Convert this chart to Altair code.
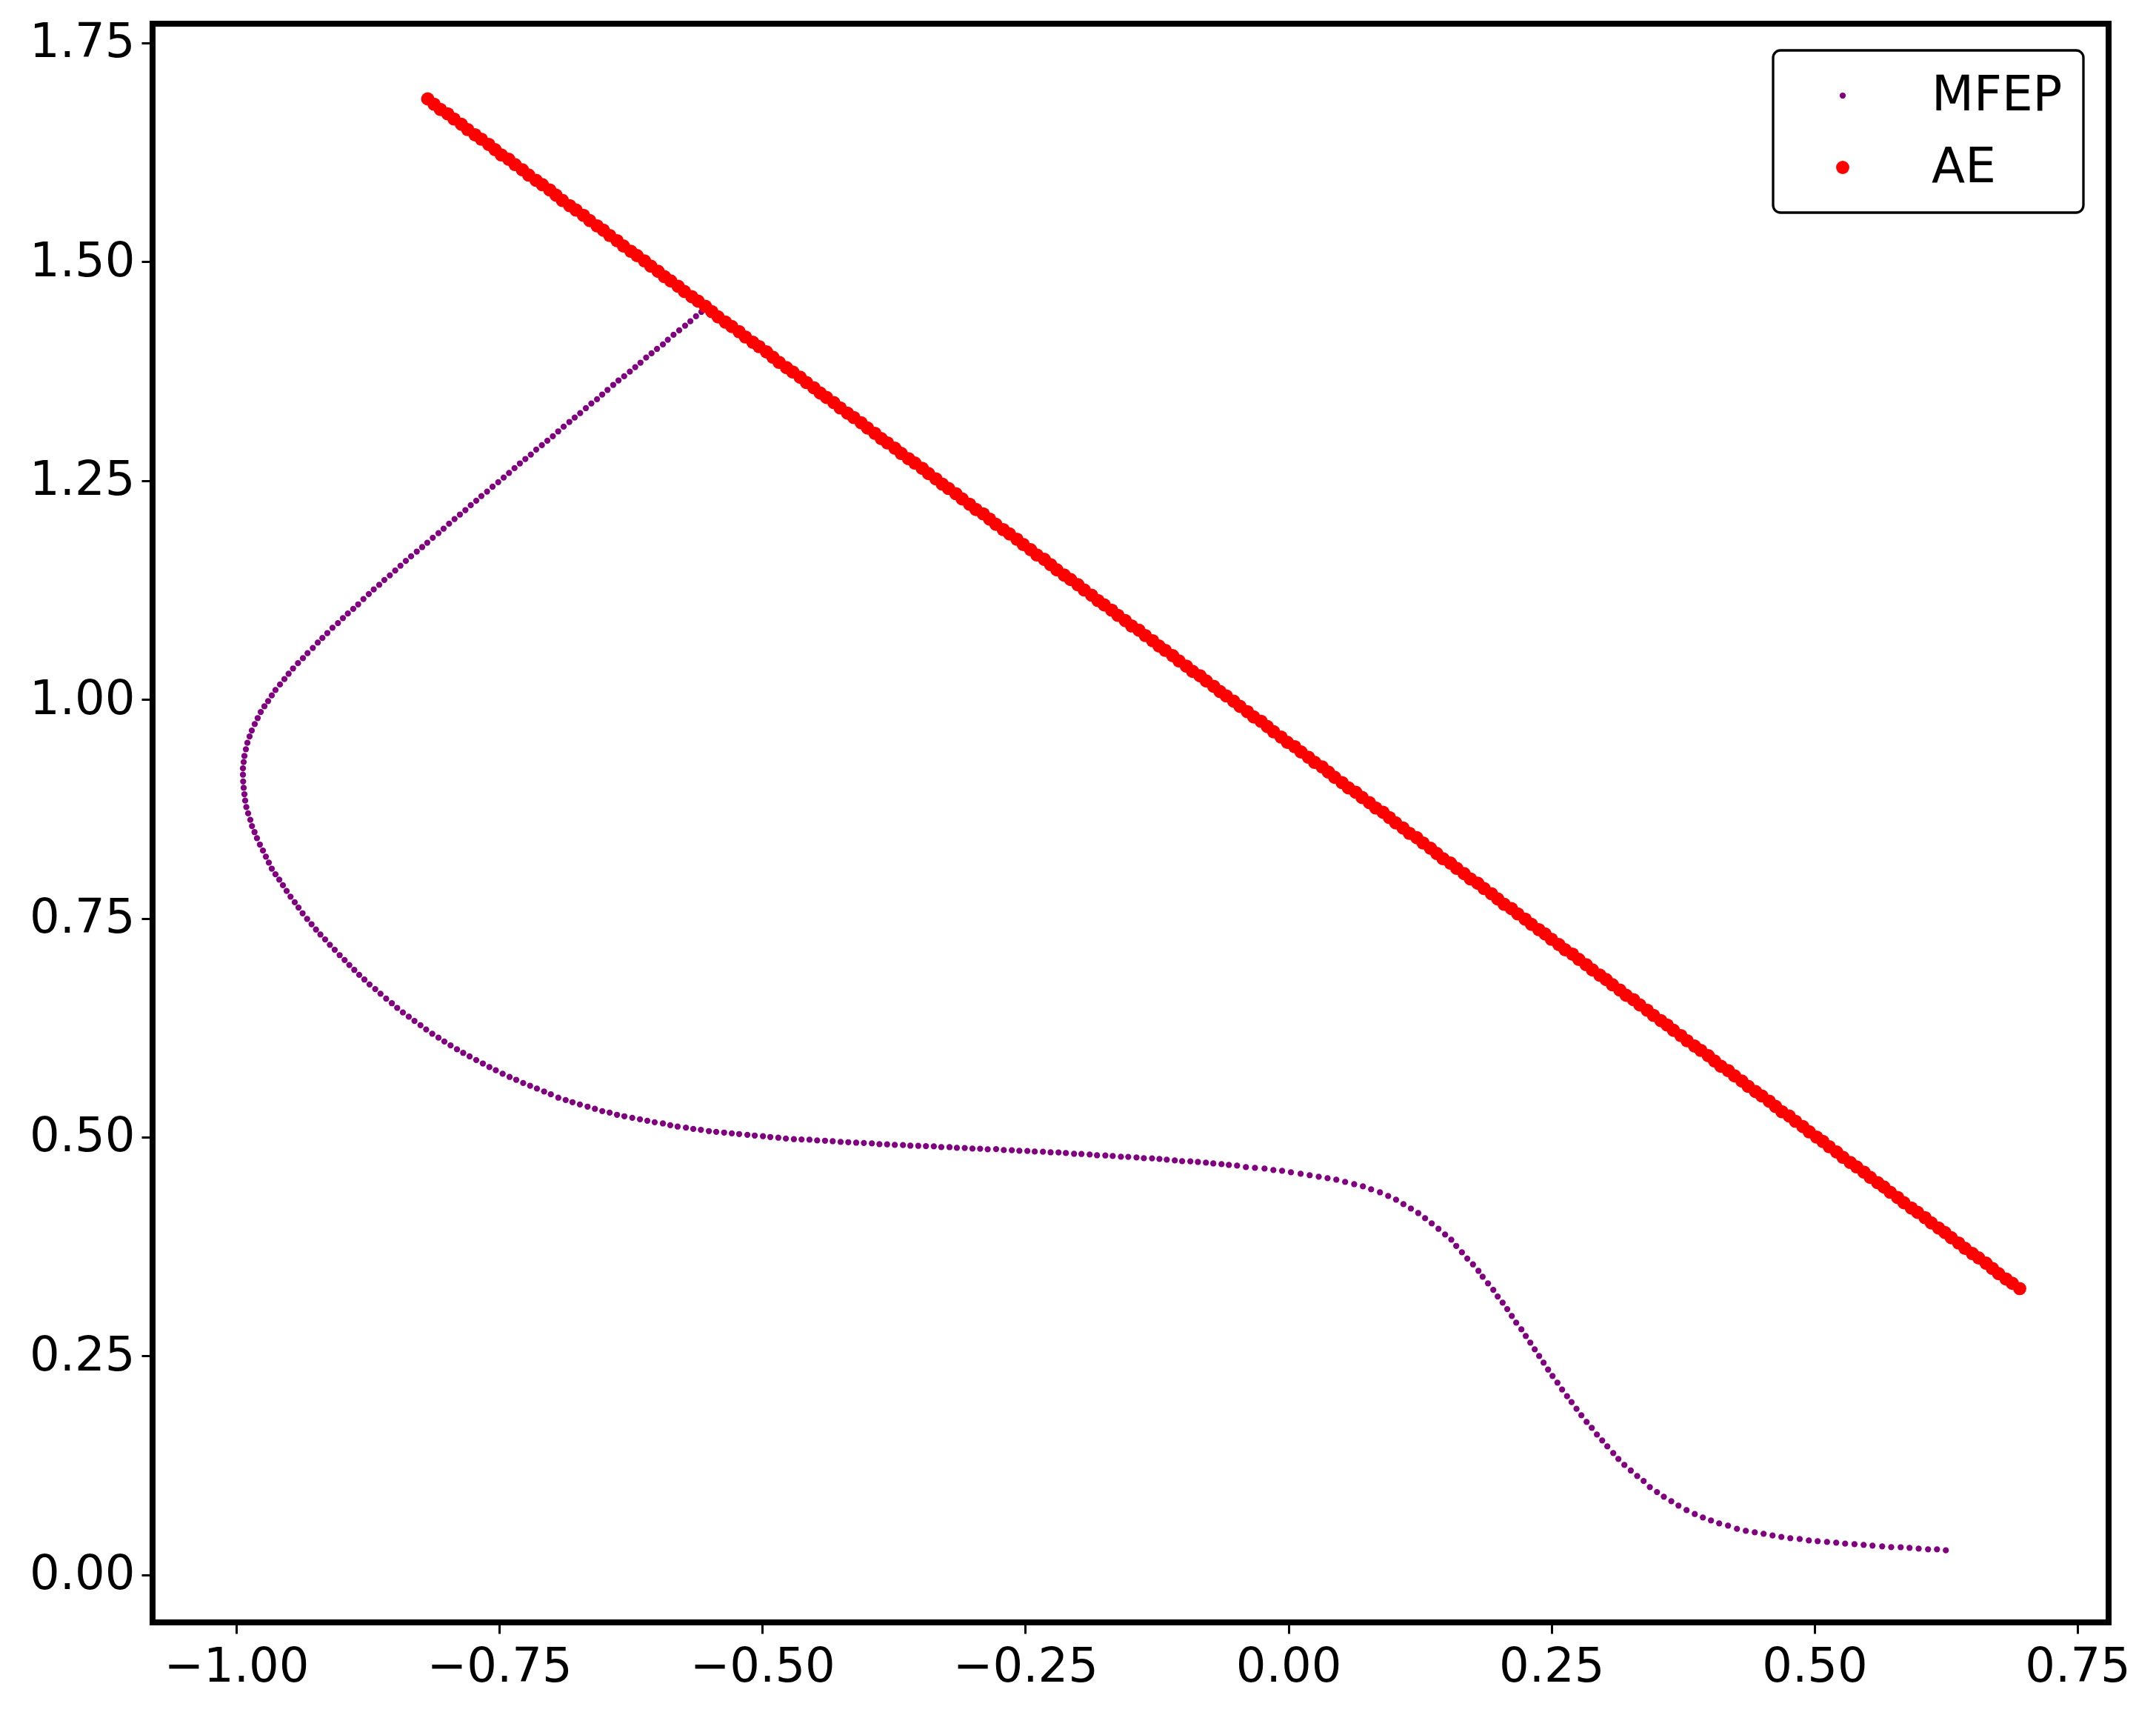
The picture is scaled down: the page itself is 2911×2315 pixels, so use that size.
import altair as alt
import pandas as pd

# ---------------- data ----------------
series_names = ["MFEP", "AE"]
series_colors = ["#800080", "#ff0000"]
series_sizes = [68, 320]

x_ticks = [-1.0, -0.75, -0.5, -0.25, 0.0, 0.25, 0.5, 0.75]
y_ticks = [0.0, 0.25, 0.5, 0.75, 1.0, 1.25, 1.5, 1.75]

# MFEP path, upper straight part
mfep_x_upper = [
    -0.5579, -0.5630, -0.5684, -0.5734, -0.5790, -0.5844, -0.5898, -0.5945, -0.6001, -0.6053,
    -0.6104, -0.6158, -0.6208, -0.6259, -0.6313, -0.6367, -0.6417, -0.6471, -0.6522, -0.6571,
    -0.6625, -0.6677, -0.6731, -0.6783, -0.6834, -0.6888, -0.6940, -0.6991, -0.7043, -0.7095,
    -0.7149, -0.7200, -0.7252, -0.7304, -0.7355, -0.7407, -0.7458, -0.7510, -0.7564, -0.7616,
    -0.7670, -0.7719, -0.7771, -0.7822, -0.7874, -0.7925, -0.7977, -0.8029, -0.8078, -0.8132,
    -0.8184, -0.8233, -0.8284, -0.8338, -0.8388, -0.8439, -0.8489]
mfep_y_upper = [
    1.4427, 1.4377, 1.4320, 1.4270, 1.4216, 1.4165, 1.4109, 1.4055, 1.4004, 1.3954,
    1.3906, 1.3847, 1.3796, 1.3745, 1.3691, 1.3644, 1.3593, 1.3536, 1.3483, 1.3429,
    1.3381, 1.3327, 1.3271, 1.3220, 1.3170, 1.3116, 1.3062, 1.3006, 1.2955, 1.2904,
    1.2854, 1.2797, 1.2747, 1.2696, 1.2642, 1.2588, 1.2535, 1.2481, 1.2430, 1.2374,
    1.2323, 1.2270, 1.2219, 1.2163, 1.2112, 1.2061, 1.2008, 1.1951, 1.1900, 1.1847,
    1.1790, 1.1740, 1.1689, 1.1635, 1.1582, 1.1528, 1.1472]

# MFEP path, left bend
mfep_x_bend = [
    -0.8540, -0.8592, -0.8641, -0.8693, -0.8740, -0.8791, -0.8841, -0.8888, -0.8939, -0.8986,
    -0.9033, -0.9085, -0.9134, -0.9181, -0.9225, -0.9272, -0.9322, -0.9366, -0.9413, -0.9460,
    -0.9502, -0.9542, -0.9584, -0.9627, -0.9662, -0.9697, -0.9732, -0.9767, -0.9796, -0.9824,
    -0.9852, -0.9873, -0.9894, -0.9908, -0.9922, -0.9929, -0.9936, -0.9936, -0.9934, -0.9929,
    -0.9922, -0.9915, -0.9904, -0.9887, -0.9866, -0.9850, -0.9826, -0.9803, -0.9775, -0.9746,
    -0.9718, -0.9690, -0.9662, -0.9627, -0.9591, -0.9556, -0.9521, -0.9484, -0.9444, -0.9408,
    -0.9369, -0.9326, -0.9284, -0.9242, -0.9200, -0.9155, -0.9110, -0.9064, -0.9017, -0.8970,
    -0.8925, -0.8878, -0.8831, -0.8782, -0.8733, -0.8679, -0.8629, -0.8575, -0.8521, -0.8470,
    -0.8416, -0.8360, -0.8306, -0.8249, -0.8195, -0.8137, -0.8078, -0.8022, -0.7963, -0.7902,
    -0.7843, -0.7782, -0.7719, -0.7656, -0.7594, -0.7533, -0.7468, -0.7402, -0.7339, -0.7273,
    -0.7207, -0.7142, -0.7074, -0.7010]
mfep_y_bend = [
    1.1418, 1.1365, 1.1309, 1.1256, 1.1204, 1.1147, 1.1086, 1.1034, 1.0981, 1.0929,
    1.0872, 1.0819, 1.0758, 1.0702, 1.0649, 1.0588, 1.0528, 1.0471, 1.0414, 1.0354,
    1.0293, 1.0232, 1.0171, 1.0107, 1.0046, 0.9981, 0.9921, 0.9856, 0.9787, 0.9718,
    0.9645, 0.9577, 0.9504, 0.9431, 0.9354, 0.9285, 0.9212, 0.9140, 0.9063, 0.8990,
    0.8917, 0.8844, 0.8771, 0.8698, 0.8625, 0.8553, 0.8484, 0.8415, 0.8342, 0.8273,
    0.8204, 0.8136, 0.8067, 0.8002, 0.7941, 0.7877, 0.7812, 0.7747, 0.7683, 0.7622,
    0.7557, 0.7492, 0.7432, 0.7371, 0.7314, 0.7258, 0.7197, 0.7140, 0.7079, 0.7023,
    0.6966, 0.6910, 0.6853, 0.6800, 0.6744, 0.6691, 0.6638, 0.6582, 0.6529, 0.6476,
    0.6424, 0.6375, 0.6327, 0.6278, 0.6230, 0.6181, 0.6136, 0.6092, 0.6047, 0.6003,
    0.5962, 0.5922, 0.5881, 0.5841, 0.5800, 0.5764, 0.5724, 0.5687, 0.5655, 0.5618,
    0.5586, 0.5554, 0.5521, 0.5489]

# MFEP path, flat middle
mfep_x_flat = [
    -0.6939, -0.6869, -0.6804, -0.6734, -0.6661, -0.6591, -0.6521, -0.6451, -0.6381, -0.6311,
    -0.6236, -0.6163, -0.6093, -0.6023, -0.5945, -0.5875, -0.5805, -0.5726, -0.5656, -0.5584,
    -0.5508, -0.5438, -0.5363, -0.5290, -0.5220, -0.5142, -0.5072, -0.4994, -0.4924, -0.4848,
    -0.4776, -0.4700, -0.4627, -0.4552, -0.4479, -0.4404, -0.4331, -0.4256, -0.4183, -0.4108,
    -0.4035, -0.3959, -0.3887, -0.3814, -0.3741, -0.3663, -0.3593, -0.3518, -0.3445, -0.3370,
    -0.3299, -0.3221, -0.3151, -0.3076, -0.3003, -0.2930, -0.2858,
    -0.2778, -0.2705, -0.2629, -0.2557, -0.2481, -0.2411, -0.2333, -0.2260, -0.2185, -0.2115,
    -0.2037, -0.1967, -0.1889, -0.1819, -0.1740, -0.1670, -0.1592, -0.1522, -0.1444, -0.1374,
    -0.1296, -0.1226, -0.1156, -0.1080, -0.1010, -0.0932, -0.0860, -0.0784, -0.0714, -0.0636,
    -0.0566, -0.0488, -0.0404, -0.0318, -0.0227, -0.0143, -0.0060, 0.0024, 0.0116, 0.0202,
    0.0288, 0.0372, 0.0455, 0.0539, 0.0625, 0.0708, 0.0786, 0.0870, 0.0948, 0.1023,
    0.1093, 0.1164, 0.1234]
mfep_y_flat = [
    0.5450, 0.5424, 0.5399, 0.5373, 0.5348, 0.5323, 0.5297, 0.5280, 0.5255, 0.5238,
    0.5221, 0.5204, 0.5187, 0.5170, 0.5156, 0.5136, 0.5120, 0.5108, 0.5094, 0.5083,
    0.5069, 0.5060, 0.5052, 0.5043, 0.5035, 0.5026, 0.5018, 0.5010, 0.5001, 0.4993,
    0.4984, 0.4976, 0.4973, 0.4970, 0.4962, 0.4959, 0.4953, 0.4945, 0.4942, 0.4936,
    0.4933, 0.4928, 0.4919, 0.4917, 0.4911, 0.4909, 0.4902, 0.4900, 0.4897, 0.4894,
    0.4886, 0.4885, 0.4877, 0.4876, 0.4869, 0.4867, 0.4860,
    0.4863, 0.4852, 0.4850, 0.4843, 0.4841, 0.4835, 0.4833, 0.4826, 0.4824, 0.4818,
    0.4809, 0.4807, 0.4801, 0.4792, 0.4790, 0.4784, 0.4776, 0.4774, 0.4767, 0.4759,
    0.4757, 0.4750, 0.4742, 0.4733, 0.4725, 0.4723, 0.4716, 0.4708, 0.4699, 0.4691,
    0.4682, 0.4674, 0.4657, 0.4649, 0.4640, 0.4623, 0.4615, 0.4598, 0.4581, 0.4564,
    0.4547, 0.4530, 0.4513, 0.4488, 0.4462, 0.4437, 0.4403, 0.4369, 0.4327, 0.4285,
    0.4234, 0.4183, 0.4132]

# MFEP path, descent and tail
mfep_x_tail = [
    0.1299, 0.1362, 0.1426, 0.1489, 0.1548, 0.1595, 0.1649, 0.1700, 0.1754, 0.1806,
    0.1846, 0.1897, 0.1947, 0.1989, 0.2036, 0.2080, 0.2123, 0.2165, 0.2214, 0.2256,
    0.2299, 0.2341, 0.2383, 0.2425, 0.2468, 0.2510, 0.2557, 0.2601, 0.2648, 0.2691,
    0.2738, 0.2784, 0.2834, 0.2883, 0.2932, 0.2982, 0.3031, 0.3087, 0.3136, 0.3193,
    0.3254, 0.3315, 0.3376,
    0.3435, 0.3503, 0.3568, 0.3639, 0.3707, 0.3784, 0.3862, 0.3939, 0.4016, 0.4094,
    0.4178, 0.4263, 0.4347, 0.4432, 0.4516, 0.4601, 0.4685, 0.4770, 0.4859, 0.4946,
    0.5030, 0.5119, 0.5206, 0.5291, 0.5380, 0.5467, 0.5551, 0.5643, 0.5729, 0.5819,
    0.5903, 0.5990, 0.6079, 0.6164, 0.6248]
mfep_y_tail = [
    0.4073, 0.4014, 0.3952, 0.3887, 0.3828, 0.3757, 0.3684, 0.3613, 0.3546, 0.3472,
    0.3405, 0.3329, 0.3255, 0.3179, 0.3109, 0.3035, 0.2956, 0.2880, 0.2804, 0.2728,
    0.2652, 0.2575, 0.2499, 0.2423, 0.2344, 0.2271, 0.2195, 0.2116, 0.2040, 0.1972,
    0.1896, 0.1822, 0.1746, 0.1679, 0.1602, 0.1535, 0.1467, 0.1391, 0.1323, 0.1255,
    0.1191, 0.1129, 0.1072,
    0.1002, 0.0945, 0.0892, 0.0841, 0.0790, 0.0739, 0.0694, 0.0655, 0.0621, 0.0587,
    0.0562, 0.0525, 0.0502, 0.0485, 0.0469, 0.0449, 0.0432, 0.0418, 0.0409, 0.0392,
    0.0384, 0.0375, 0.0367, 0.0356, 0.0350, 0.0342, 0.0333, 0.0325, 0.0316, 0.0315,
    0.0308, 0.0299, 0.0291, 0.0290, 0.0280]

# AE points
ae_x = [
    -0.818, -0.812, -0.806, -0.799, -0.793, -0.786, -0.780, -0.773, -0.767, -0.760,
    -0.754, -0.748, -0.741, -0.735, -0.728, -0.722, -0.715, -0.709, -0.702, -0.696,
    -0.690, -0.683, -0.677, -0.670, -0.664, -0.657, -0.651, -0.645, -0.638, -0.632,
    -0.625, -0.619, -0.612, -0.606, -0.599, -0.593, -0.587, -0.580, -0.574, -0.567,
    -0.561, -0.554, -0.548, -0.542, -0.535, -0.529, -0.522, -0.516, -0.509, -0.503,
    -0.496, -0.490, -0.484, -0.477, -0.471, -0.464, -0.458, -0.451, -0.445, -0.439,
    -0.432, -0.426, -0.419, -0.413, -0.406, -0.400, -0.393, -0.387, -0.381, -0.374,
    -0.368, -0.361, -0.355, -0.348, -0.342, -0.335, -0.329, -0.323, -0.316, -0.310,
    -0.303, -0.297, -0.290, -0.284, -0.278, -0.271, -0.265, -0.258, -0.252, -0.245,
    -0.239, -0.232, -0.226, -0.220, -0.213, -0.207, -0.200, -0.194, -0.187, -0.181,
    -0.175, -0.168, -0.162, -0.155, -0.149, -0.142, -0.136, -0.129, -0.123, -0.117,
    -0.110, -0.104, -0.097, -0.091, -0.084, -0.078, -0.071, -0.065, -0.059, -0.052,
    -0.046, -0.039, -0.033, -0.026, -0.020, -0.014, -0.007, -0.001, 0.006, 0.012,
    0.019, 0.025, 0.032, 0.038, 0.044, 0.051, 0.057, 0.064, 0.070, 0.077,
    0.083, 0.090, 0.096, 0.102, 0.109, 0.115, 0.122, 0.128, 0.135, 0.141,
    0.147, 0.154, 0.160, 0.167, 0.173, 0.180, 0.186, 0.193, 0.199, 0.205,
    0.212, 0.218, 0.225, 0.231, 0.238, 0.244, 0.250, 0.257, 0.263, 0.270,
    0.276, 0.283, 0.289, 0.296, 0.302, 0.308, 0.315, 0.321, 0.328, 0.334,
    0.341, 0.347, 0.354, 0.360, 0.366, 0.373, 0.379, 0.386, 0.392, 0.399,
    0.405, 0.411, 0.418, 0.424, 0.431, 0.437, 0.444, 0.450, 0.457, 0.463,
    0.469, 0.476, 0.482, 0.489, 0.495, 0.502, 0.508, 0.514, 0.521, 0.527,
    0.534, 0.540, 0.547, 0.553, 0.560, 0.566, 0.572, 0.579, 0.585, 0.592,
    0.598, 0.605, 0.611, 0.618, 0.624, 0.630, 0.637, 0.643, 0.650, 0.656,
    0.663, 0.669, 0.675, 0.682, 0.688, 0.695]
ae_y = [
    1.686, 1.680, 1.674, 1.669, 1.663, 1.657, 1.651, 1.645, 1.640, 1.634,
    1.628, 1.622, 1.617, 1.611, 1.605, 1.599, 1.593, 1.588, 1.582, 1.576,
    1.570, 1.564, 1.559, 1.553, 1.547, 1.541, 1.536, 1.530, 1.524, 1.518,
    1.512, 1.507, 1.501, 1.495, 1.489, 1.483, 1.478, 1.472, 1.466, 1.460,
    1.455, 1.449, 1.443, 1.437, 1.431, 1.426, 1.420, 1.414, 1.408, 1.403,
    1.397, 1.391, 1.385, 1.379, 1.374, 1.368, 1.362, 1.356, 1.350, 1.345,
    1.339, 1.333, 1.327, 1.322, 1.316, 1.310, 1.304, 1.298, 1.293, 1.287,
    1.281, 1.275, 1.270, 1.264, 1.258, 1.252, 1.246, 1.241, 1.235, 1.229,
    1.223, 1.217, 1.212, 1.206, 1.200, 1.194, 1.189, 1.183, 1.177, 1.171,
    1.165, 1.160, 1.154, 1.148, 1.142, 1.137, 1.131, 1.125, 1.119, 1.113,
    1.108, 1.102, 1.096, 1.090, 1.084, 1.079, 1.073, 1.067, 1.061, 1.056,
    1.050, 1.044, 1.038, 1.032, 1.027, 1.021, 1.015, 1.009, 1.004, 0.998,
    0.992, 0.986, 0.980, 0.975, 0.969, 0.963, 0.957, 0.951, 0.946, 0.940,
    0.934, 0.928, 0.923, 0.917, 0.911, 0.905, 0.899, 0.894, 0.888, 0.882,
    0.876, 0.871, 0.865, 0.859, 0.853, 0.847, 0.842, 0.836, 0.830, 0.824,
    0.818, 0.813, 0.807, 0.801, 0.795, 0.790, 0.784, 0.778, 0.772, 0.766,
    0.761, 0.755, 0.749, 0.743, 0.737, 0.732, 0.726, 0.720, 0.714, 0.709,
    0.703, 0.697, 0.691, 0.685, 0.680, 0.674, 0.668, 0.662, 0.657, 0.651,
    0.645, 0.639, 0.633, 0.628, 0.622, 0.616, 0.610, 0.604, 0.599, 0.593,
    0.587, 0.581, 0.576, 0.570, 0.564, 0.558, 0.552, 0.547, 0.541, 0.535,
    0.529, 0.524, 0.518, 0.512, 0.506, 0.500, 0.495, 0.489, 0.483, 0.477,
    0.471, 0.466, 0.460, 0.454, 0.448, 0.443, 0.437, 0.431, 0.425, 0.419,
    0.414, 0.408, 0.402, 0.396, 0.391, 0.385, 0.379, 0.373, 0.367, 0.362,
    0.356, 0.350, 0.344, 0.338, 0.333, 0.327]

mfep_x = mfep_x_upper + mfep_x_bend + mfep_x_flat + mfep_x_tail
mfep_y = mfep_y_upper + mfep_y_bend + mfep_y_flat + mfep_y_tail
assert len(mfep_x) == len(mfep_y)
assert len(ae_x) == len(ae_y)

rows = []
for x, y in zip(mfep_x, mfep_y):
    rows.append({"x": x, "y": y, "series": "MFEP"})
for x, y in zip(ae_x, ae_y):
    rows.append({"x": x, "y": y, "series": "AE"})
df = pd.DataFrame(rows)
df["idx"] = range(len(df))

FONT = "DejaVu Sans"

legend = alt.Legend(
    title=None,
    orient="none",
    legendX=2188,
    legendY=36,
    direction="vertical",
    labelFont=FONT,
    labelFontSize=66,
    labelColor="black",
    labelLimit=600,
    labelOffset=87,
    symbolOffset=33,
    symbolType="circle",
    symbolStrokeWidth=0,
    symbolOpacity=1,
    padding=28,
    rowPadding=31,
    strokeColor="black",
    fillColor="white",
    cornerRadius=10,
)

chart = (
    alt.Chart(df)
    .mark_circle(opacity=1, strokeWidth=0)
    .encode(
        x=alt.X(
            "x:Q",
            scale=alt.Scale(domain=[-1.0795, 0.7795], nice=False, zero=False),
            axis=alt.Axis(values=x_ticks, format=".2f", title=None, grid=False,
                          domain=False, labelPadding=13),
        ),
        y=alt.Y(
            "y:Q",
            scale=alt.Scale(domain=[-0.0544, 1.7719], nice=False, zero=False),
            axis=alt.Axis(values=y_ticks, format=".2f", title=None, grid=False,
                          domain=False, labelPadding=9),
        ),
        color=alt.Color("series:N",
                        scale=alt.Scale(domain=series_names, range=series_colors),
                        legend=legend),
        size=alt.Size("series:N",
                      scale=alt.Scale(type="ordinal", domain=series_names, range=series_sizes),
                      legend=legend),
        order=alt.Order("idx:Q"),
    )
    .properties(
        width=2641,
        height=2158,
        padding={"left": 198, "top": 24, "right": 56, "bottom": 110},
        autosize=alt.AutoSizeParams(type="none"),
        background="white",
    )
    .configure_view(stroke="black", strokeWidth=8)
    .configure_axis(
        labelFont=FONT,
        labelFontSize=64,
        labelColor="black",
        labelLimit=500,
        tickColor="black",
        tickWidth=3,
        tickSize=15,
    )
    .configure_legend(strokeWidth=3.3)
)

chart.save("out.html", embed_options={"renderer": "svg", "actions": False})
